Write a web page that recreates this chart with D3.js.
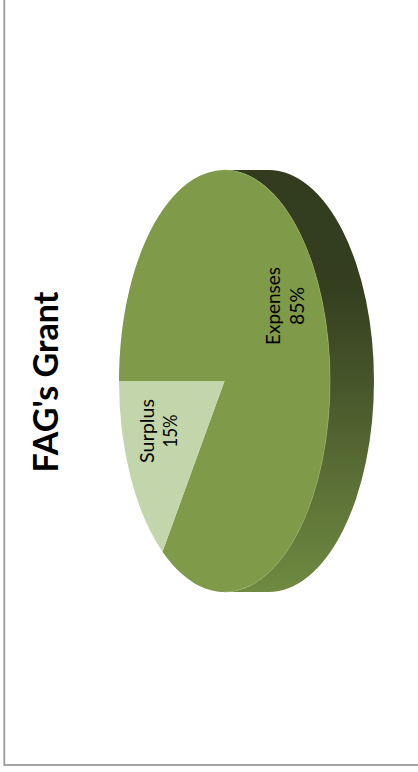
<!DOCTYPE html>
<html>
<head>
<meta charset="utf-8">
<script src="https://cdn.jsdelivr.net/npm/d3@7"></script>
<style>
  html, body { margin: 0; padding: 0; background: #ffffff; }
  svg { display: block; }
</style>
</head>
<body>
<script>
// ---- data ----
const categories = ["Expenses", "Surplus"];
const values = [85, 15];
const topColors = ["#7F9A48", "#C3D5AA"];
const chartTitle = "FAG's Grant";

// ---- layout ----
const W = 418, H = 772;
const cx = 224.5, cy = 381;   // pie centre on screen
const Rx = 211, Ry = 105.5;   // ellipse radii in the unrotated (original) frame
const depth = 44;

const svg = d3.select("body").append("svg").attr("width", W).attr("height", H);

// frame (left + bottom border)
svg.append("rect")
  .attr("x", 4.3).attr("y", -10).attr("width", 600).attr("height", 775)
  .attr("fill", "none").attr("stroke", "#9c9c9c").attr("stroke-width", 1.8);

// side gradient (local frame: x runs from screen-top (+Rx) to screen-bottom (-Rx))
const defs = svg.append("defs");
const grad = defs.append("linearGradient").attr("id", "sideGrad")
  .attr("gradientUnits", "userSpaceOnUse")
  .attr("x1", Rx).attr("y1", 0).attr("x2", -Rx).attr("y2", 0);
[[0, "#323B1E"], [0.28, "#353F20"], [0.5, "#46552A"], [0.74, "#5B7036"], [1, "#6F8A41"]]
  .forEach(([o, c]) => grad.append("stop").attr("offset", o).attr("stop-color", c));

const pie = d3.pie().sort(null).value(d => d)(values);

const g = svg.append("g").attr("transform", `translate(${cx},${cy}) rotate(-90)`);

// ellipse point for a d3 angle (0 = 12 o'clock, clockwise)
const ept = (a, dy = 0) => [Rx * Math.sin(a), -Ry * Math.cos(a) + dy];

// side walls: portion of each slice lying on the front half (angles PI/2 .. 3PI/2)
pie.forEach((p, i) => {
  const a0 = Math.max(p.startAngle, Math.PI / 2);
  const a1 = Math.min(p.endAngle, 3 * Math.PI / 2);
  if (a1 <= a0) return;
  const s0 = ept(a0), s1 = ept(a1), b0 = ept(a0, depth), b1 = ept(a1, depth);
  const large = (a1 - a0) > Math.PI ? 1 : 0;
  const d = `M${s0}A${Rx},${Ry} 0 ${large} 1 ${s1}L${b1}A${Rx},${Ry} 0 ${large} 0 ${b0}Z`;
  g.append("path").attr("d", d).attr("fill", "url(#sideGrad)");
});

// top faces: d3.arc in circle space, squashed into the ellipse
const arc = d3.arc().innerRadius(0).outerRadius(Rx);
const topG = g.append("g").attr("transform", `scale(1,${Ry / Rx})`);
topG.selectAll("path.top").data(pie).join("path")
  .attr("class", "top")
  .attr("d", arc)
  .attr("fill", (d, i) => topColors[i]);

// faint lighter rim along the front edge of the top face
g.append("path")
  .attr("d", `M${ept(Math.PI / 2)}A${Rx},${Ry} 0 0 1 ${ept(3 * Math.PI / 2)}`)
  .attr("fill", "none").attr("stroke", "#91AA5E").attr("stroke-width", 1).attr("opacity", 0.7);

// labels (local frame positions: [x centre, baseline line1, baseline line2])
const labelPos = [
  { x: 75, b1: 55, b2: 79, len1: 78, len2: 38 },
  { x: -50, b1: -71, b2: -47.5, len1: 64, len2: 33 }
];
const fmt = d3.format(".0%");
const total = d3.sum(values);
pie.forEach((p, i) => {
  const L = labelPos[i];
  const t = g.append("g").attr("font-family", "Lato, 'Open Sans', sans-serif")
    .attr("font-size", 20).attr("fill", "#000").attr("text-anchor", "middle");
  t.append("text").attr("x", L.x).attr("y", L.b1)
    .attr("textLength", L.len1).attr("lengthAdjust", "spacingAndGlyphs")
    .text(categories[i]);
  t.append("text").attr("x", L.x).attr("y", L.b2)
    .attr("textLength", L.len2).attr("lengthAdjust", "spacingAndGlyphs")
    .text(fmt(values[i] / total));
});

// title
svg.append("text")
  .attr("transform", "translate(58,382) rotate(-90)")
  .attr("text-anchor", "middle")
  .attr("font-family", "Lato, 'Open Sans', sans-serif")
  .attr("font-weight", "bold").attr("font-size", 34)
  .attr("textLength", 181).attr("lengthAdjust", "spacingAndGlyphs")
  .attr("fill", "#000")
  .text(chartTitle);
</script>
</body>
</html>
